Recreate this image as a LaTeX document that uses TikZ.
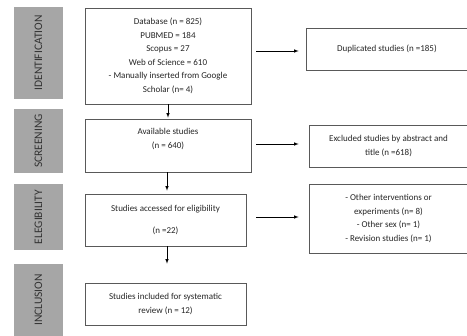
\documentclass[tikz,border=0pt]{standalone}
\usepackage{fontspec}
\setmainfont{Carlito}
\usetikzlibrary{arrows,positioning,calc}

\begin{document}
\begin{tikzpicture}[->, >=latex, x=1pt, y=-1pt, semithick, font=\fontsize{9}{13.5}\selectfont]
\tikzstyle{block} = [rectangle, draw=black!65, fill=white, text=black!85, 
align=center, inner sep=0pt, line width=0.7pt]
\tikzstyle{phase} = [rectangle, fill=black!35, text=black!80, rotate=90, 
inner sep=0pt, minimum height=49pt, font=\fontsize{11.5}{13}\selectfont]
\tikzstyle{line} = [draw, -latex, line width=0.6pt]
\useasboundingbox (0,0) rectangle (467,336);
%% phases
\node[phase,minimum width=92pt] at (38.5,53) (P1){IDENTIFICATION};
\node[phase,minimum width=64pt] at (38.5,141) (P2){SCREENING};
\node[phase,minimum width=66pt] at (38.5,217) (P3){ELEGIBILITY};
\node[phase,minimum width=72pt] at (38.5,300) (P4){INCLUSION};
%% boxes
\node[block,minimum width=166pt,minimum height=96pt] at (168,56) (B1){Database (n = 825)\\ PUBMED = 184\\ Scopus = 27\\ Web of Science = 610\\ - Manually inserted from Google\\ Scholar (n= 4)};
\node[block,minimum width=166pt,minimum height=53pt] at (168,145.5) (B2){Available studies\\ (n = 640)\\[1pt]};
\node[block,minimum width=161pt,minimum height=52pt] at (165.5,220) (B3){Studies accessed for eligibility\\[9pt] (n =22)};
\node[block,minimum width=161pt,minimum height=42pt] at (165.5,304) (B4){Studies included for systematic\\ review (n = 12)};
\node[block,minimum width=162pt,minimum height=42pt] at (387,49) (R1){\raisebox{-3pt}{Duplicated studies (n =185)}};
\node[block,minimum width=159pt,minimum height=42pt] at (388.5,146) (R2){Excluded studies by abstract and\\ title (n =618)};
\node[block,minimum width=159pt,minimum height=69pt] at (388.5,218.5) (R3){- Other interventions or\\ experiments (n= 8)\\ - Other sex (n= 1)\\ - Revision studies (n= 1)};
%% arrows
\draw[line,shorten >=1pt] (B1) -- (B2);
\draw[line,shorten >=3pt] (B2.south -| 167,0) -- (B3.north -| 167,0);
\draw[line,shorten >=19pt] (B3.south -| 167,0) -- (B4.north -| 167,0);
\draw[line,shorten <=5pt,shorten >=7pt] ($(B1.east |- R1.west)+(0,2)$) -- ($(R1.west)+(0,2)$);
\draw[line,shorten <=5pt,shorten >=10pt] ($(B2.east |- R2.west)+(0,-2)$) -- ($(R2.west)+(0,-2)$);
\draw[line,shorten <=10pt,shorten >=10pt] ($(B3.east |- R3.west)+(0,-1.5)$) -- ($(R3.west)+(0,-1.5)$);
\end{tikzpicture}
\end{document}
